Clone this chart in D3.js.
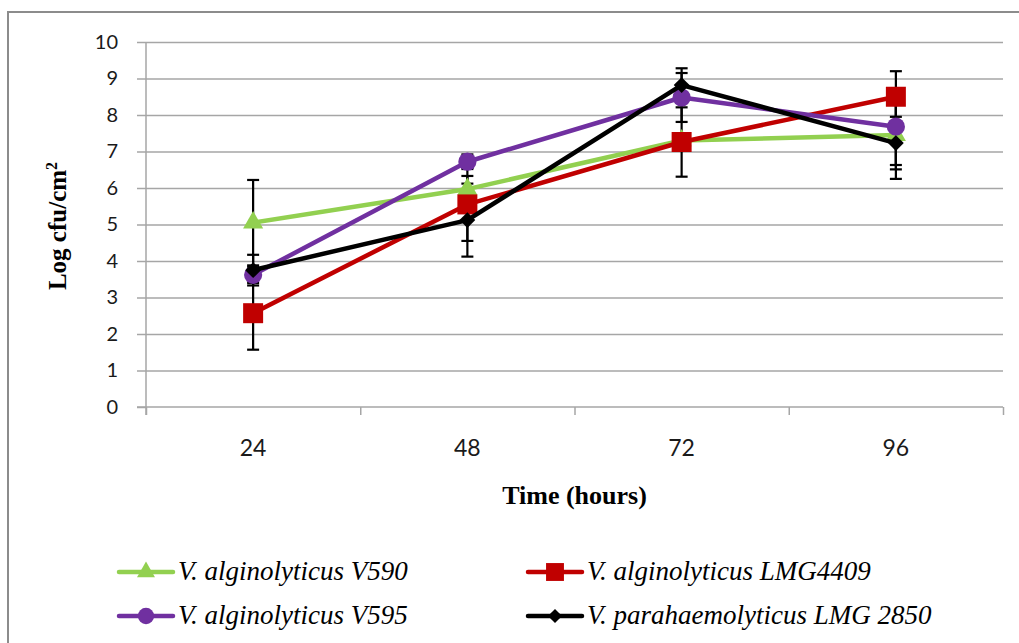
<!DOCTYPE html>
<html><head><meta charset="utf-8">
<script src="https://cdn.jsdelivr.net/npm/d3@7"></script>
<style>
body{margin:0;background:#fff;overflow:hidden}
.serif{font-family:"Liberation Serif","Tinos","Times New Roman","DejaVu Serif",serif}
.sans{font-family:"Lato","Open Sans",sans-serif}
</style>
</head><body><svg id="c" width="1019" height="643"></svg>
<script>
// ---- data ----
const categories = ["24", "48", "72", "96"];
const yTickValues = [0, 1, 2, 3, 4, 5, 6, 7, 8, 9, 10];
const seriesNames = ["V. alginolyticus V590", "V. alginolyticus LMG4409", "V. alginolyticus V595", "V. parahaemolyticus LMG 2850"];
const v590 = [5.05, 5.97, 7.30, 7.45];
const v590Err = [1.17, 0.36, 0.20, 1.20];
const lmg4409 = [2.57, 5.55, 7.26, 8.50];
const lmg4409Err = [1.00, 1.00, 0.95, 0.70];
const v595 = [3.62, 6.72, 8.48, 7.68];
const v595Err = [0.22, 0.20, 0.67, 1.05];
const lmg2850 = [3.75, 5.12, 8.82, 7.23];
const lmg2850Err = [0.42, 1.00, 0.46, 0.72];
const xTitle = "Time (hours)";

// ---- styles ----
const colors = ["#92D050", "#C00000", "#7030A0", "#000000"];
const shapes = [
  {type: d3.symbolTriangle, size: 175, rot: 0},
  {type: d3.symbolSquare, size: 400, rot: 0},
  {type: d3.symbolCircle, size: 260, rot: 0},
  {type: d3.symbolSquare, size: 125, rot: 45}
];
const series = [
  {name: seriesNames[0], values: v590, err: v590Err},
  {name: seriesNames[1], values: lmg4409, err: lmg4409Err},
  {name: seriesNames[2], values: v595, err: v595Err},
  {name: seriesNames[3], values: lmg2850, err: lmg2850Err}
];

const svg = d3.select("#c");
svg.append("rect").attr("width", 1019).attr("height", 643).attr("fill", "#fff");
// outer chart border
svg.append("rect").attr("x", 8).attr("y", 12).attr("width", 1030).attr("height", 700)
  .attr("fill", "none").attr("stroke", "#8c8c8c").attr("stroke-width", 2);

const L = 146, R = 1003, T = 42, B = 407;
const x = d3.scaleBand().domain(categories).range([L, R]).padding(0);
const xb = d3.scaleLinear().domain([0, categories.length]).range([L, R]);
const y = d3.scaleLinear().domain([0, 10]).range([B, T]);
const cx = c => x(c) + x.bandwidth() / 2;

// grid
const grid = svg.append("g").attr("transform", `translate(${L},0)`)
  .call(d3.axisLeft(y).tickValues(yTickValues.slice(1)).tickSize(-(R - L)).tickFormat(""));
grid.select(".domain").remove();
grid.selectAll("line").attr("stroke", "#a6a6a6").attr("stroke-width", 1.5);

// y axis
const ya = svg.append("g").attr("transform", `translate(${L},0)`)
  .call(d3.axisLeft(y).tickValues(yTickValues).tickSize(9).tickSizeOuter(0).tickPadding(19));
ya.select(".domain").remove();
ya.append("line").attr("x1", 0).attr("x2", 0).attr("y1", T).attr("y2", B + 8)
  .attr("stroke", "#a6a6a6").attr("stroke-width", 1.5);
ya.selectAll("line").attr("stroke", "#a6a6a6").attr("stroke-width", 1.5);
ya.attr("font-family", null);
ya.selectAll("text").attr("class", "sans").attr("font-size", 20).attr("fill", "#1a1a1a");

// x axis (tick marks at category boundaries)
const xa = svg.append("g").attr("transform", `translate(0,${B})`)
  .call(d3.axisBottom(xb).tickValues(d3.range(categories.length + 1)).tickSize(8).tickSizeOuter(0).tickFormat(""));
xa.select(".domain").remove();
xa.append("line").attr("x1", L - 9).attr("x2", R).attr("y1", 0).attr("y2", 0)
  .attr("stroke", "#a6a6a6").attr("stroke-width", 1.5);
xa.selectAll("line").attr("stroke", "#a6a6a6").attr("stroke-width", 1.5);
const xl = svg.append("g").attr("transform", `translate(0,${B})`)
  .call(d3.axisBottom(x).tickSize(0).tickPadding(33));
xl.select(".domain").remove();
xl.attr("font-family", null);
xl.selectAll("text").attr("class", "sans").attr("font-size", 23).attr("fill", "#1a1a1a");

// axis titles
svg.append("text").attr("class", "serif").attr("x", (L + R) / 2).attr("y", 504).attr("text-anchor", "middle")
  .attr("font-weight", "bold").attr("font-size", 26).text(xTitle);
const yt = svg.append("text").attr("class", "serif").attr("transform", "translate(66,226) rotate(-90)")
  .attr("text-anchor", "middle").attr("font-weight", "bold").attr("font-size", 25);
yt.append("tspan").text("Log cfu/cm");
yt.append("tspan").attr("font-size", 16).attr("dy", -9).text("2");

// error bars (behind)
const eb = svg.append("g");
series.forEach(s => {
  categories.forEach((c, i) => {
    const xc = cx(c), y1 = y(s.values[i] + s.err[i]), y0 = y(s.values[i] - s.err[i]);
    eb.append("line").attr("x1", xc).attr("x2", xc).attr("y1", y1).attr("y2", y0)
      .attr("stroke", "#000").attr("stroke-width", 2.2);
    [y1, y0].forEach(yy => eb.append("line").attr("x1", xc - 6).attr("x2", xc + 6)
      .attr("y1", yy).attr("y2", yy).attr("stroke", "#000").attr("stroke-width", 2.2));
  });
});

// series lines and markers
const line = d3.line().x((d, i) => cx(categories[i])).y(d => y(d));
series.forEach((s, k) => {
  const g = svg.append("g");
  g.append("path").attr("d", line(s.values)).attr("fill", "none")
    .attr("stroke", colors[k]).attr("stroke-width", 4.5).attr("stroke-linejoin", "round");
  g.selectAll("path.m").data(s.values).join("path").attr("class", "m")
    .attr("d", d3.symbol().type(shapes[k].type).size(shapes[k].size))
    .attr("transform", (d, i) => `translate(${cx(categories[i])},${y(d)}) rotate(${shapes[k].rot})`)
    .attr("fill", colors[k]);
});

// legend
const legPos = [[119, 572], [528, 572], [119, 616], [528, 616]];
series.forEach((s, k) => {
  const [lx, ly] = legPos[k];
  const g = svg.append("g").attr("transform", `translate(${lx},${ly})`);
  g.append("line").attr("x1", 0).attr("x2", 54).attr("stroke", colors[k]).attr("stroke-width", 4.5)
    .attr("stroke-linecap", "round");
  g.append("path").attr("d", d3.symbol().type(shapes[k].type).size(shapes[k].size * 0.8))
    .attr("transform", `translate(27,0) rotate(${shapes[k].rot})`).attr("fill", colors[k]);
  g.append("text").attr("class", "serif").attr("x", 59).attr("y", 8)
    .attr("font-style", "italic").attr("font-size", 27).attr("fill", "#000").text(s.name);
});
</script></body></html>
